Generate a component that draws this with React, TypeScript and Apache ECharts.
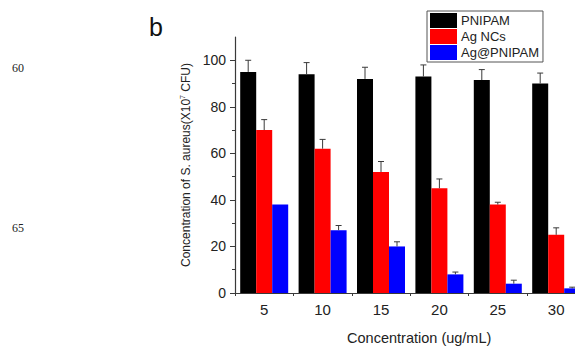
import React, { useEffect, useRef } from "react";
import * as echarts from "echarts";

const categories = ["5", "10", "15", "20", "25", "30"];
const seriesNames = ["PNIPAM", "Ag NCs", "Ag@PNIPAM"];
const pnipam = [95, 94, 92, 93, 91.5, 90];
const pnipamErr = [5, 5, 5, 5, 4.5, 4.5];
const agNCs = [70, 62, 52, 45, 38, 25];
const agNCsErr = [4.5, 4, 4.5, 4, 1, 3];
const agPnipam = [38, 27, 20, 8, 4, 2];
const agPnipamErr = [0, 2, 2, 1, 1.5, 0.5];
const yTicks = [0, 20, 40, 60, 80, 100];
const sideLabels = ["60", "65"];

const colors = ["#000000", "#ff0000", "#0000ff"];
const BAR_W = 16;

function errSeries(vals: number[], errs: number[], offset: number) {
  return {
    type: "custom",
    z: 5,
    silent: true,
    encode: { x: 0, y: [1, 2] },
    data: vals.map((v, i) => [i, v, v + errs[i]]),
    renderItem: (params: any, api: any) => {
      const i = api.value(0);
      const lo = api.coord([i, api.value(1)]);
      const hi = api.coord([i, api.value(2)]);
      const x = lo[0] + offset;
      if (Math.abs(hi[1] - lo[1]) < 0.5) return { type: "group", children: [] };
      const style = { stroke: "#3a3a3a", lineWidth: 1, fill: "none" };
      return {
        type: "group",
        children: [
          { type: "line", shape: { x1: x, y1: lo[1], x2: x, y2: hi[1] }, style },
          { type: "line", shape: { x1: x - 3, y1: hi[1], x2: x + 3, y2: hi[1] }, style },
        ],
      };
    },
  };
}

export default function App() {
  const ref = useRef<HTMLDivElement>(null);
  useEffect(() => {
    document.documentElement.style.overflow = "hidden";
    document.body.style.overflow = "hidden";
    const chart = echarts.init(ref.current!, null, { renderer: "svg" });
    const axisColor = "#3a3a3a";
    const font = "Liberation Sans, Arial, sans-serif";
    chart.setOption({
      animation: false,
      grid: { left: 235, top: 37, width: 350.4, height: 256, containLabel: false, outerBoundsMode: "none" },
      legend: {
        data: seriesNames,
        orient: "vertical",
        left: 427,
        top: 11,
        padding: [2, 4, 2, 3],
        itemGap: 1,
        itemWidth: 27,
        itemHeight: 15,
        icon: "rect",
        borderColor: "#555",
        borderWidth: 1,
        selectedMode: false,
        textStyle: { fontSize: 13, fontFamily: font, color: "#222", padding: [0, 0, 0, -1] },
      },
      graphic: [
        { type: "text", left: 149, top: 14, style: { text: "b", fontSize: 25, fontFamily: font, fill: "#111" } },
        { type: "text", left: 12, top: 62, style: { text: sideLabels[0], fontSize: 12, fontFamily: "Liberation Serif, Times New Roman, serif", fill: "#222" } },
        { type: "text", left: 12, top: 222, style: { text: sideLabels[1], fontSize: 12, fontFamily: "Liberation Serif, Times New Roman, serif", fill: "#222" } },
      ],
      xAxis: [
        {
          type: "category",
          data: categories,
          name: "Concentration (ug/mL)",
          nameLocation: "middle",
          nameGap: 37,
          nameTextStyle: { fontSize: 14.5, fontFamily: font, color: "#222", padding: [0, 0, 0, 18] },
          axisLine: { lineStyle: { color: axisColor, width: 1.2 } },
          axisTick: { alignWithLabel: true, length: 4, lineStyle: { color: axisColor } },
          axisLabel: { fontSize: 15, fontFamily: font, color: "#222", margin: 9 },
        },
        {
          type: "value",
          min: 0,
          max: 6,
          interval: 1,
          position: "bottom",
          axisLine: { show: false },
          axisTick: { show: true, length: 3, lineStyle: { color: axisColor } },
          axisLabel: { show: false },
          splitLine: { show: false },
        },
      ],
      yAxis: {
        type: "value",
        min: 0,
        max: 110,
        interval: 20,
        name: "Concentration of S. aureus(X10{sup|7} CFU)",
        nameLocation: "middle",
        nameGap: 43,
        nameTextStyle: {
          fontSize: 12,
          fontFamily: font,
          color: "#222",
          rich: { sup: { fontSize: 7, fontFamily: font, color: "#222", verticalAlign: "top", padding: [0, 0, 6, 0] } },
        },
        axisLine: { show: true, lineStyle: { color: axisColor, width: 1.2 } },
        axisTick: { show: true, length: 5, customValues: yTicks, lineStyle: { color: axisColor } },
        minorTick: { show: true, splitNumber: 2, length: 3, lineStyle: { color: axisColor } },
        axisLabel: { fontSize: 14, fontFamily: font, color: "#222", margin: 9, customValues: yTicks },
        splitLine: { show: false },
      },
      series: [
        { name: seriesNames[0], type: "bar", data: pnipam, barWidth: BAR_W, barGap: "0%", itemStyle: { color: colors[0] } },
        { name: seriesNames[1], type: "bar", data: agNCs, barWidth: BAR_W, barGap: "0%", itemStyle: { color: colors[1] } },
        { name: seriesNames[2], type: "bar", data: agPnipam, barWidth: BAR_W, barGap: "0%", itemStyle: { color: colors[2] } },
        errSeries(pnipam, pnipamErr, -BAR_W),
        errSeries(agNCs, agNCsErr, 0),
        errSeries(agPnipam, agPnipamErr, BAR_W),
      ],
    });
    return () => chart.dispose();
  }, []);
  return <div ref={ref} style={{ position: "fixed", left: 0, top: 0, width: 600, height: 346, background: "#fff" }} />;
}
